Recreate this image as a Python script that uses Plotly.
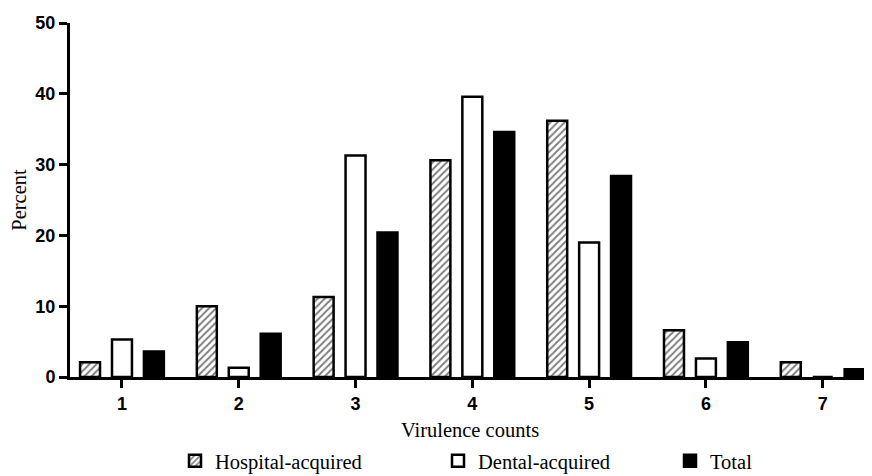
import plotly.graph_objects as go

categories = [1, 2, 3, 4, 5, 6, 7]
hospital = [2.1, 10.0, 11.3, 30.6, 36.2, 6.6, 2.1]
dental = [5.3, 1.3, 31.3, 39.6, 19.0, 2.6, 0.0]
total = [3.6, 6.1, 20.4, 34.6, 28.4, 4.9, 1.1]

serif = "Liberation Serif, Times New Roman, serif"
sans = "Liberation Sans, Arial, sans-serif"

fig = go.Figure()
fig.add_trace(go.Bar(
    x=categories, y=hospital, name="Hospital-acquired", legend="legend",
    marker=dict(color="white", line=dict(color="black", width=2.5),
                pattern=dict(shape="/", fgcolor="black", bgcolor="white",
                             size=5, solidity=0.4)),
))
fig.add_trace(go.Bar(
    x=categories, y=dental, name="Dental-acquired", legend="legend2",
    marker=dict(color="white", line=dict(color="black", width=2.5)),
))
fig.add_trace(go.Bar(
    x=categories, y=total, name="Total", legend="legend3",
    marker=dict(color="black", line=dict(color="black", width=2.5)),
))

leg_font = dict(family=serif, size=20.5, color="black")


# the page has an 8px body margin, so the figure is 864x468 drawn at (8, 8)
def legend_at(px):
    # left edge in page pixels -> paper coords (plot area starts at page x=70, 800px wide)
    return dict(x=(px - 70) / 800, xanchor="left",
                yref="container", y=15 / 468, yanchor="middle",
                orientation="h", font=leg_font, bgcolor="rgba(0,0,0,0)")


fig.update_layout(
    width=864, height=468,
    margin=dict(l=62, r=2, t=15, b=99),
    paper_bgcolor="white", plot_bgcolor="white",
    barmode="group", bargap=0.18, bargroupgap=0.375,
    showlegend=True,
    legend=legend_at(175),
    legend2=legend_at(438),
    legend3=legend_at(670),
    xaxis=dict(
        range=[0.555, 7.405], tickvals=categories, ticktext=[str(c) for c in categories],
        showline=True, linecolor="black", linewidth=3, showgrid=False, zeroline=False,
        ticks="outside", ticklen=8, tickwidth=3, tickcolor="black", automargin=False,
        tickfont=dict(family=sans, size=18, color="black", weight="bold"),
        title=dict(text="Virulence counts", font=dict(family=serif, size=20.5, color="black"), standoff=14),
    ),
    yaxis=dict(
        range=[0, 50], tickvals=[0, 10, 20, 30, 40, 50],
        showline=True, linecolor="black", linewidth=3, showgrid=False, zeroline=False,
        ticks="outside", ticklen=8, tickwidth=3, tickcolor="black", automargin=False,
        tickfont=dict(family=sans, size=18, color="black", weight="bold"),
        title=dict(text="Percent", font=dict(family=serif, size=20.5, color="black"), standoff=10),
    ),
)

fig.write_html("out.html")
